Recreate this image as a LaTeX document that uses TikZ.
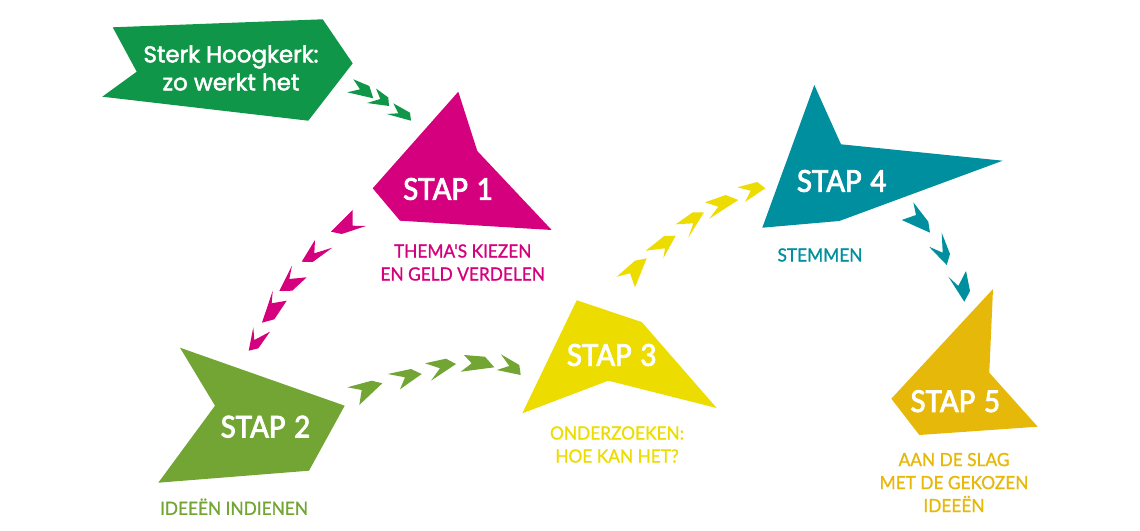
\documentclass[tikz,border=0pt]{standalone}
\usepackage{fontspec}
\setmainfont{Lato}
\newfontfamily\kopfont[FakeBold=2]{Poppins}
\newfontfamily\stapfont[FakeStretch=0.92,WordSpace=1.25,FakeBold=3]{Lato}
\newfontfamily\uitlegfont[FakeStretch=0.95,FakeBold=1]{Lato}
\definecolor{groen}{HTML}{0F9648}
\definecolor{roze}{HTML}{D5007D}
\definecolor{olijf}{HTML}{72A533}
\definecolor{geel}{HTML}{EDDC00}
\definecolor{blauw}{HTML}{008F9F}
\definecolor{goud}{HTML}{E6B80A}
\tikzset{
stapnaam/.style={text=white,inner sep=0pt,font=\stapfont\fontsize{30}{36}\selectfont},
stapuitleg/.style={inner sep=0pt,align=center,font=\uitlegfont\fontsize{18.2}{23}\selectfont}
}
\begin{document}
\begin{tikzpicture}[x=1pt,y=-1pt,line join=miter]
\useasboundingbox (0,0) rectangle (1140,530);
% vlakken
\fill[groen] (322.7,19.3)--(352.7,63.3)--(308.3,120.7)--(102.3,96.7)--(136.7,71.7)--(112.7,27.3)--cycle;
\fill[roze] (458.3,91.7)--(477.3,151)--(551.7,230)--(400,220.7)--(372.7,188.3)--cycle;
\fill[olijf] (180,347.7)--(344.7,405.7)--(309,470.7)--(158.3,482.7)--(215,405.7)--cycle;
\fill[geel] (576.7,300.3)--(641.7,322)--(716.7,408)--(608.3,380.7)--(522.3,413.3)--cycle;
\fill[blauw] (814.3,85)--(841,144.3)--(1002.7,160.7)--(839.3,221)--(762.3,227.7)--cycle;
\fill[goud] (993,289)--(989.3,372.7)--(1037.7,426.7)--(919.3,435)--(891.3,398.7)--cycle;
% pijltjes
\fill[groen] (353.3,79.3)--(369.3,86)--(373.3,98.3)--(347.3,92.3)--(360,89.3)--cycle;
\fill[groen] (376,88.5)--(388.3,97.5)--(389,106)--(367,103)--(380.3,99)--cycle;
\fill[groen] (393.3,103.3)--(410,112.7)--(411,120.7)--(386.7,114)--(398.3,113.3)--cycle;
\fill[roze] (352.7,210)--(352.7,225.7)--(366,226)--(341.7,234)--(331,231.7)--cycle;
\fill[roze] (315,240)--(314.3,253.3)--(332.3,247.7)--(312.7,262)--(301.7,261.7)--cycle;
\fill[roze] (292,265.7)--(289.3,279)--(306.7,277.3)--(292.3,290.7)--(279.3,291)--cycle;
\fill[roze] (272.7,290.7)--(271.7,303.3)--(286.7,300.7)--(274.3,319.3)--(262,322.7)--cycle;
\fill[roze] (253.3,327.3)--(254.3,340)--(270,331.7)--(258.3,348.3)--(248.7,350.7)--cycle;
\fill[olijf] (347.3,387.3)--(371.7,380.7)--(382.3,383.3)--(359.3,405)--(361.7,390)--cycle;
\fill[olijf] (387.7,374)--(411,369)--(421.7,374)--(400,389.3)--(405,377.3)--cycle;
\fill[olijf] (425,363.3)--(446,358.7)--(456,364)--(431,380.7)--(440,368.3)--cycle;
\fill[olijf] (464,355)--(485,356.7)--(494.3,367.3)--(460.7,371.7)--(471.7,363.3)--cycle;
\fill[olijf] (501,354.3)--(519.3,365)--(520.7,375)--(496.7,370)--(509.3,366)--cycle;
\fill[geel] (616.7,276.7)--(635,260.7)--(646.7,258.3)--(635,287.3)--(630,273.3)--cycle;
\fill[geel] (645.7,250.7)--(664.3,236)--(675.7,235.7)--(663.3,258.3)--(665,248.3)--cycle;
\fill[geel] (675.7,224.3)--(692.7,212.3)--(704,212.3)--(688.3,237.7)--(693.3,223.3)--cycle;
\fill[geel] (705,202.3)--(725.7,195)--(738.3,200)--(709.3,218.7)--(718.3,206.7)--cycle;
\fill[geel] (737.3,187.3)--(757.3,182)--(765.3,188.3)--(745,202)--(750.7,190.7)--cycle;
\fill[blauw] (913.3,202.3)--(928.3,221.7)--(930,232.7)--(901.7,220)--(916,215)--cycle;
\fill[blauw] (941.7,232.7)--(950,254)--(946.7,265)--(929,246.7)--(942.7,252.7)--cycle;
\fill[blauw] (966,271)--(970,291)--(964.3,301.7)--(948.3,276.7)--(958.3,286)--cycle;
% teksten
\node[inner sep=0pt,text=white,align=center,font=\fontsize{23}{28}\selectfont\kopfont] (kop) at (231,68) {Sterk Hoogkerk:\\zo werkt het};
\node[stapnaam] (stap1) at (448,189) {STAP 1};
\node[stapnaam] (stap2) at (265.5,426.7) {STAP 2};
\node[stapnaam] (stap3) at (611.7,355) {STAP 3};
\node[stapnaam] (stap4) at (841.7,181) {STAP 4};
\node[stapnaam] (stap5) at (955.3,401.2) {STAP 5};
\node[stapuitleg,text=roze] (uitleg1) at (462.7,262.5) {THEMA'S KIEZEN\\EN GELD VERDELEN};
\node[stapuitleg,text=olijf] (uitleg2) at (234,506.7) {IDEEËN INDIENEN};
\node[stapuitleg,text=geel] (uitleg3) at (617,444.5) {ONDERZOEKEN:\\HOE KAN HET?};
\node[stapuitleg,text=blauw] (uitleg4) at (820,255) {STEMMEN};
\node[stapuitleg,text=goud] (uitleg5) at (954,482.5) {AAN DE SLAG\\MET DE GEKOZEN\\IDEEËN};
\end{tikzpicture}
\end{document}
